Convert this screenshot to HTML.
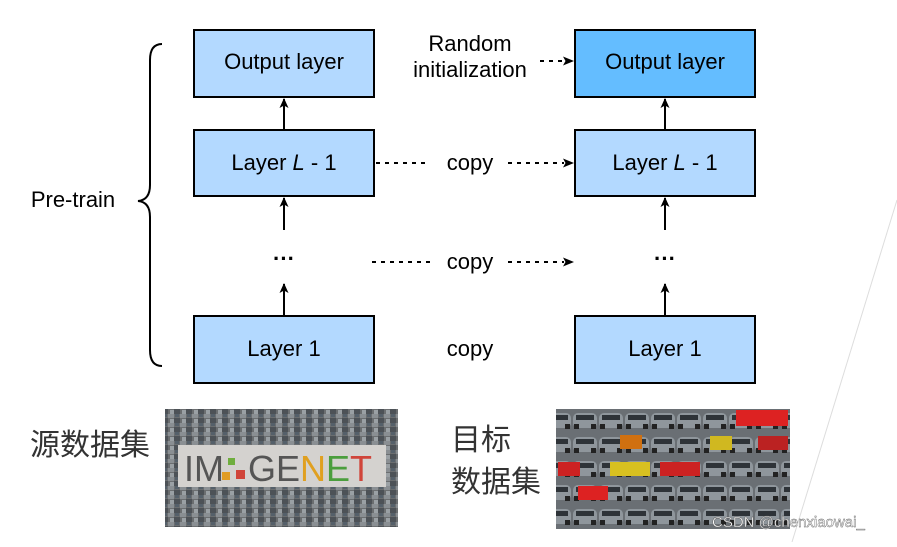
<!DOCTYPE html>
<html><head><meta charset="utf-8"><style>
body{margin:0;background:#fff;width:897px;height:542px;overflow:hidden}
svg text{font-family:"Liberation Sans",Arial,sans-serif}
.cjk{font-family:"Liberation Sans","Noto Sans CJK SC",sans-serif}
</style></head><body>
<svg width="897" height="542" viewBox="0 0 897 542" xmlns="http://www.w3.org/2000/svg">
<defs>
<marker id="a" markerWidth="10" markerHeight="10" refX="9" refY="5" orient="auto" markerUnits="userSpaceOnUse"><path d="M0,0.5 L10,5 L0,9.5 L2.5,5z" fill="#000"/></marker>
<pattern id="noise" width="12" height="9" patternUnits="userSpaceOnUse">
<rect width="12" height="9" fill="#6b6e70"/><rect width="6" height="4" fill="#8a8f93"/><rect x="6" y="4" width="6" height="5" fill="#4d5257"/><rect x="2" y="5" width="4" height="4" fill="#9aa0a4"/><rect x="7" y="0" width="4" height="3" fill="#55606a"/></pattern>
<pattern id="cars" width="26" height="24" patternUnits="userSpaceOnUse">
<rect width="26" height="24" fill="#6a6f74"/><rect x="1" y="5" width="24" height="15" rx="5" fill="#8f969c"/><rect x="4" y="7" width="18" height="5" fill="#2e3338"/><rect x="2" y="16" width="5" height="5" fill="#222"/><rect x="19" y="16" width="5" height="5" fill="#222"/></pattern>
</defs>
<g stroke="#000" stroke-width="2">
<rect x="194" y="30" width="180" height="67" fill="#b3d9ff"/>
<rect x="194" y="130" width="180" height="66" fill="#b3d9ff"/>
<rect x="194" y="316" width="180" height="67" fill="#b3d9ff"/>
<rect x="575" y="30" width="180" height="67" fill="#64bdff"/>
<rect x="575" y="130" width="180" height="66" fill="#b3d9ff"/>
<rect x="575" y="316" width="180" height="67" fill="#b3d9ff"/>
</g>
<g stroke="#000" stroke-width="2" marker-end="url(#a)">
<line x1="284" y1="130" x2="284" y2="99"/>
<line x1="665" y1="130" x2="665" y2="99"/>
<line x1="284" y1="230" x2="284" y2="198"/>
<line x1="665" y1="230" x2="665" y2="198"/>
<line x1="284" y1="316" x2="284" y2="284"/>
<line x1="665" y1="316" x2="665" y2="284"/>
</g>
<g stroke="#000" stroke-width="2" stroke-dasharray="4,5">
<line x1="376" y1="163" x2="430" y2="163"/>
<line x1="508" y1="163" x2="564" y2="163"/>
<line x1="372" y1="262" x2="430" y2="262"/>
<line x1="508" y1="262" x2="564" y2="262"/>
<line x1="540" y1="61" x2="564" y2="61"/>
</g>
<g fill="#000"><path d="M574,163 l-11,-4.5 2.5,4.5 -2.5,4.5z"/><path d="M574,262 l-11,-4.5 2.5,4.5 -2.5,4.5z"/><path d="M574,61 l-11,-4.5 2.5,4.5 -2.5,4.5z"/></g>
<path d="M162,44 Q150,44 150,60 L150,185 Q150,200 138,201 Q150,202 150,217 L150,350 Q150,366 162,366" fill="none" stroke="#000" stroke-width="2"/>
<g font-size="22" fill="#000" text-anchor="middle">
<text x="284" y="69">Output layer</text>
<text x="665" y="69">Output layer</text>
<text x="284" y="170">Layer <tspan font-style="italic">L</tspan> - 1</text>
<text x="665" y="170">Layer <tspan font-style="italic">L</tspan> - 1</text>
<text x="284" y="356">Layer 1</text>
<text x="665" y="356">Layer 1</text>
<text x="470" y="51">Random</text>
<text x="470" y="77">initialization</text>
<text x="470" y="170">copy</text>
<text x="470" y="269">copy</text>
<text x="470" y="356">copy</text>
<text x="284" y="266" font-weight="bold">···</text>
<text x="665" y="266" font-weight="bold">···</text>
<text x="73" y="207">Pre-train</text>
</g>
<rect x="165" y="409" width="233" height="118" fill="url(#noise)"/>
<rect x="178" y="445" width="208" height="42" fill="#d4d2cf"/>
<text x="184" y="481" font-size="36" fill="#555">IM</text>
<rect x="228" y="458" width="7" height="7" fill="#6fae3e"/><rect x="222" y="472" width="8" height="8" fill="#e09c24"/><rect x="236" y="470" width="9" height="9" fill="#d0453a"/>
<text x="248" y="481" font-size="36" fill="#555">GE<tspan fill="#e0a020">N</tspan><tspan fill="#4b9e3d">E</tspan><tspan fill="#d0453a">T</tspan></text>
<rect x="556" y="409" width="234" height="120" fill="url(#cars)"/>
<rect x="558" y="462" width="22" height="14" fill="#c22"/><rect x="620" y="435" width="22" height="14" fill="#d07010"/><rect x="610" y="462" width="40" height="14" fill="#d8c020"/><rect x="660" y="462" width="40" height="14" fill="#c22"/><rect x="736" y="410" width="52" height="16" fill="#d22"/><rect x="710" y="436" width="22" height="14" fill="#d0b820"/><rect x="758" y="436" width="30" height="14" fill="#b22"/><rect x="578" y="486" width="30" height="14" fill="#d22"/>
<text x="30" y="455" font-size="30" fill="#333" class="cjk">源数据集</text>
<text x="451" y="450" font-size="30" fill="#333" class="cjk">目标</text>
<text x="451" y="492" font-size="30" fill="#333" class="cjk">数据集</text>
<line x1="897" y1="200" x2="792" y2="542" stroke="#ddd" stroke-width="1"/>
<text x="712" y="527" font-size="15" fill="#fff" stroke="#555" stroke-width="0.4">CSDN @chenxiaowai_</text>
</svg>
</body></html>
